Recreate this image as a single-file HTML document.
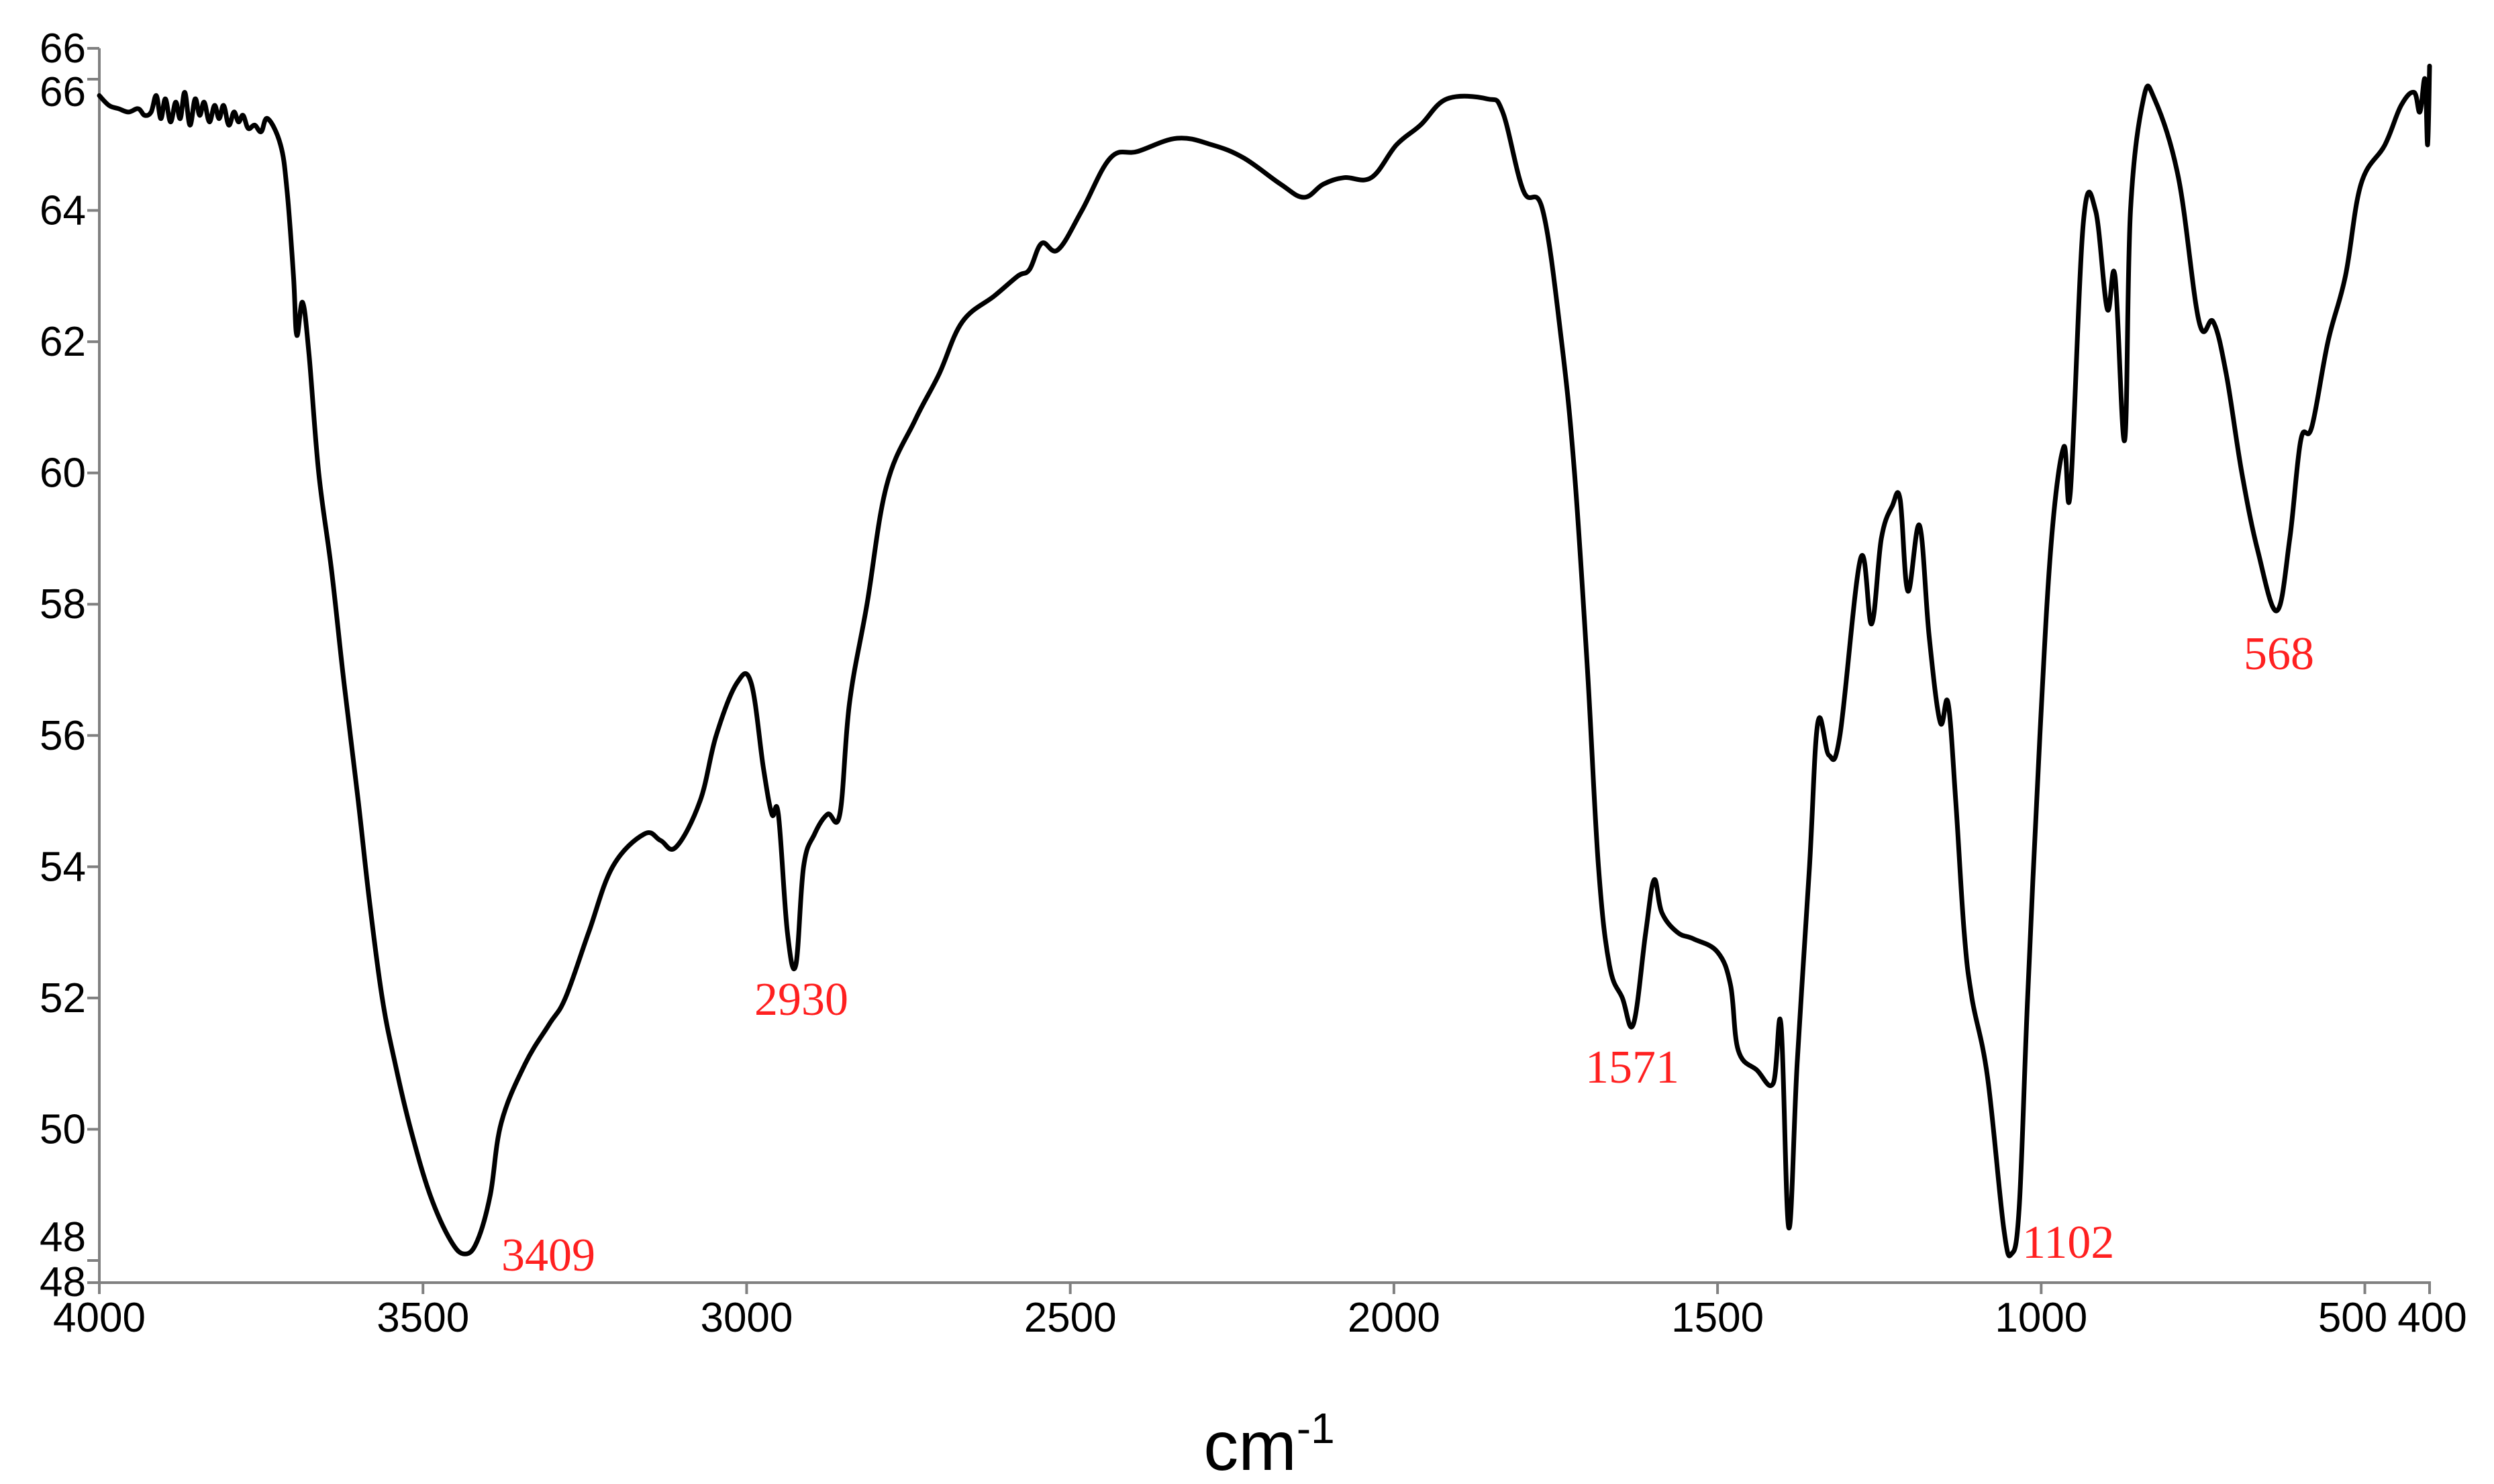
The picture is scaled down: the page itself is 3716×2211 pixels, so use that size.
<!DOCTYPE html>
<html><head><meta charset="utf-8"><style>
html,body{margin:0;padding:0;background:#fff;}
svg{display:block;}
</style></head><body>
<svg id="chart" width="3716" height="2211" viewBox="0 0 3716 2211" xmlns="http://www.w3.org/2000/svg">
<g id="axes"></g>
<path id="curve" fill="none" stroke="#000" stroke-width="7" stroke-linejoin="round" stroke-linecap="round"/>
<g id="labels"></g>
<text x="1891" y="2190" font-family="Liberation Sans, sans-serif" font-size="104" text-anchor="middle">cm<tspan font-size="64" dy="-40">-1</tspan></text>
</svg>
<script>
const wavenumbers=[4000,3985,3970,3955,3940,3930,3920,3912,3905,3898,3890,3882,3875,3868,3860,3852,3845,3838,3830,3822,3815,3808,3800,3792,3785,3778,3770,3760,3750,3740,3720,3710,3700,3695,3686,3676,3661,3641,3622,3600,3583,3563,3543,3519,3489,3457,3435,3416,3396,3379,3342,3305,3280,3244,3207,3158,3133,3109,3072,3047,3015,2993,2974,2961,2951,2937,2924,2912,2895,2875,2856,2841,2814,2784,2740,2703,2667,2617,2581,2563,2544,2519,2482,2438,2396,2335,2281,2232,2175,2139,2109,2077,2035,1996,1959,1918,1856,1832,1800,1770,1741,1721,1701,1684,1667,1647,1630,1611,1598,1586,1562,1537,1500,1480,1468,1439,1414,1402,1390,1377,1358,1345,1328,1311,1279,1262,1247,1230,1218,1206,1188,1173,1156,1144,1132,1119,1107,1083,1058,1046,1034,1021,1002,984,965,955,935,916,898,886,871,862,842,825,788,756,734,714,690,665,636,616,599,582,557,530,506,469,444,424,415,407,403,400];
const transmittance=[65.75,65.6,65.55,65.5,65.55,65.45,65.5,65.75,65.4,65.7,65.35,65.65,65.4,65.8,65.3,65.7,65.45,65.65,65.35,65.6,65.4,65.6,65.3,65.5,65.35,65.45,65.25,65.3,65.2,65.4,65.0,64.3,63.0,62.1,62.6,61.8,60.0,58.5,56.8,55.0,53.5,52.0,51.0,50.0,49.0,48.3,48.1,48.3,49.0,50.1,51.0,51.6,52.0,53.0,54.0,54.5,54.4,54.3,55.0,56.0,56.8,56.8,55.5,54.8,54.8,53.0,52.5,54.0,54.5,54.8,54.8,56.5,58.0,59.8,60.8,61.5,62.3,62.7,63.0,63.1,63.5,63.4,64.0,64.8,64.9,65.1,65.0,64.8,64.4,64.2,64.4,64.5,64.5,65.0,65.3,65.7,65.7,65.5,64.3,64.0,62.0,60.0,57.0,54.0,52.5,52.0,51.6,53.0,53.8,53.3,53.0,52.9,52.7,52.2,51.2,50.9,50.7,51.6,48.5,51.0,54.0,56.2,55.7,56.0,58.7,57.7,59.0,59.5,59.6,58.2,59.2,57.5,56.2,56.5,55.0,53.0,52.0,50.8,48.5,48.1,48.8,52.0,56.0,59.0,60.4,59.7,63.8,64.0,62.5,63.0,60.5,64.0,65.7,65.7,64.5,62.3,62.3,61.5,60.0,58.8,57.9,59.0,60.5,60.7,62.0,63.0,64.4,65.0,65.6,65.8,65.5,66.0,65.0,66.2];
const yTickValues=[64,62,60,58,56,54,52,50];
const xTickValues=[4000,3500,3000,2500,2000,1500,1000,500,400];
const xTickLabels=["4000","3500","3000","2500","2000","1500","1000","500","400"];
const peakWavenumbers=["3409","2930","1571","1102","568"];

function xs(w){return 148+(4000-w)*(3472/3600);}
function ys(v){return 118+(66-v)*97.78;}
const NS='http://www.w3.org/2000/svg';
const axes=document.getElementById('axes');
function mk(tag,attrs,parent){const e=document.createElementNS(NS,tag);for(const k in attrs)e.setAttribute(k,attrs[k]);parent.appendChild(e);return e;}
const ac='#808080';
let l=mk('line',{x1:148,y1:72,x2:148,y2:1912,stroke:ac,'stroke-width':4},axes);


l=mk('line',{x1:130,y1:1911,x2:3622,y2:1911,stroke:ac,'stroke-width':4},axes);


const font='Liberation Sans, sans-serif';
function ytick(y,labelY,txt){
  const t=mk('line',{x1:130,y1:y,x2:148,y2:y,stroke:ac,'stroke-width':4},axes);
  
  
  const tx=mk('text',{x:128,y:labelY+21,'font-family':font,'font-size':62,'text-anchor':'end'},axes);
  
  
  tx.textContent=txt;
}
ytick(72,72,"66");
ytick(118,137,"66");
yTickValues.forEach(v=>ytick(ys(v),ys(v),String(v)));
ytick(1878,1843,"48");
ytick(1911,1910,"48");
xTickValues.forEach((w,i)=>{
  const x=xs(w);
  const t=mk('line',{x1:x,y1:1911,x2:x,y2:1928,stroke:ac,'stroke-width':4},axes);
  
  
  let lx=x; if(w===500) lx=x-18; if(w===400) lx=x+4;
  const tx=mk('text',{x:lx,y:1984,'font-family':font,'font-size':62,'text-anchor':'middle'},axes);
  
  
  tx.textContent=xTickLabels[i];
});
const P=wavenumbers.map((w,i)=>[xs(w),ys(transmittance[i])]);
let d='M'+P[0][0].toFixed(1)+' '+P[0][1].toFixed(1);
const k=0.18;
for(let i=0;i<P.length-1;i++){
  const p0=P[Math.max(0,i-1)],p1=P[i],p2=P[i+1],p3=P[Math.min(P.length-1,i+2)];
  const c1=[p1[0]+(p2[0]-p0[0])*k,p1[1]+(p2[1]-p0[1])*k];
  const c2=[p2[0]-(p3[0]-p1[0])*k,p2[1]-(p3[1]-p1[1])*k];
  c1[0]=Math.min(Math.max(c1[0],p1[0]),p2[0]);c2[0]=Math.min(Math.max(c2[0],p1[0]),p2[0]);
  d+='C'+c1[0].toFixed(1)+' '+c1[1].toFixed(1)+' '+c2[0].toFixed(1)+' '+c2[1].toFixed(1)+' '+p2[0].toFixed(1)+' '+p2[1].toFixed(1);
}
document.getElementById('curve').setAttribute('d',d);
const lab=document.getElementById('labels');
const labPos=[[747,1893],[1124,1512],[2362,1613],[3013,1874],[3343,997]];
peakWavenumbers.forEach((p,i)=>{
  const t=mk('text',{x:labPos[i][0],y:labPos[i][1],'font-family':'Liberation Serif, serif','font-size':70,fill:'#ff2020'},lab);
  
  
  t.textContent=p;
});
</script>
</body></html>
